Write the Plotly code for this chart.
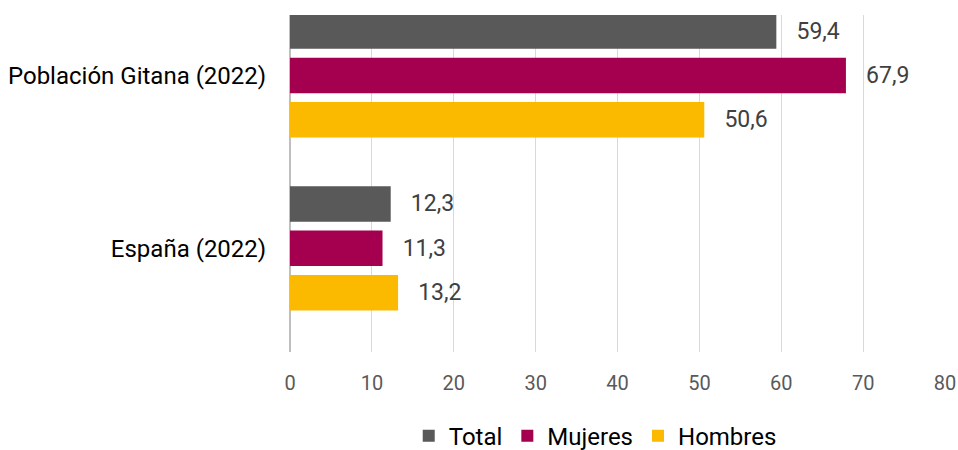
import plotly.graph_objects as go

categorias = ['Población Gitana (2022)', 'España (2022)']
total = [59.4, 12.3]
mujeres = [67.9, 11.3]
hombres = [50.6, 13.2]
x_ticks = [0, 10, 20, 30, 40, 50, 60, 70, 80]

series = [
    ('Total', total, '#595959'),
    ('Mujeres', mujeres, '#A50050'),
    ('Hombres', hombres, '#FBB900'),
]

fig = go.Figure()

for nombre, valores, color in series:
    etiquetas = ['\u00a0\u00a0\u00a0' + f'{v:.1f}'.replace('.', ',') for v in valores]
    fig.add_trace(go.Bar(
        y=categorias,
        x=valores,
        name=nombre,
        orientation='h',
        marker=dict(color=color, line=dict(width=0)),
        text=etiquetas,
        textposition='outside',
        textfont=dict(family='Roboto', size=23, color='#404040'),
        cliponaxis=False,
    ))

fig.update_layout(
    width=958,
    height=450,
    barmode='group',
    bargap=0.23,
    bargroupgap=0.2,
    plot_bgcolor='white',
    paper_bgcolor='white',
    font=dict(family='Roboto', color='#000000'),
    margin=dict(l=290, r=13, t=15, b=98, autoexpand=False),
    showlegend=True,
    legend=dict(
        orientation='h',
        x=0.466, xanchor='center',
        y=-0.25, yanchor='middle',
        font=dict(family='Roboto', size=24, color='#000000'),
        traceorder='normal',
        itemwidth=30,
    ),
    xaxis=dict(
        range=[0, 80],
        tickvals=x_ticks,
        automargin=False,
        showgrid=True,
        gridcolor='#d9d9d9',
        gridwidth=1,
        zeroline=True,
        zerolinecolor='#bfbfbf',
        zerolinewidth=2,
        ticks='outside',
        ticklen=13,
        tickcolor='rgba(0,0,0,0)',
        tickfont=dict(family='Roboto', size=20, color='#595959'),
    ),
    yaxis=dict(
        categoryorder='array',
        categoryarray=categorias,
        range=[1.6, -0.35],
        automargin=False,
        showgrid=False,
        ticks='outside',
        ticklen=18,
        tickcolor='rgba(0,0,0,0)',
        tickfont=dict(family='Roboto', size=24, color='#000000'),
    ),
)

# quitar el margen por defecto del body para que el grafico ocupe toda la ventana
fig.write_html(
    'out.html',
    config={'displayModeBar': False},
    post_script="document.body.style.margin='0';document.body.style.overflow='hidden';",
)
